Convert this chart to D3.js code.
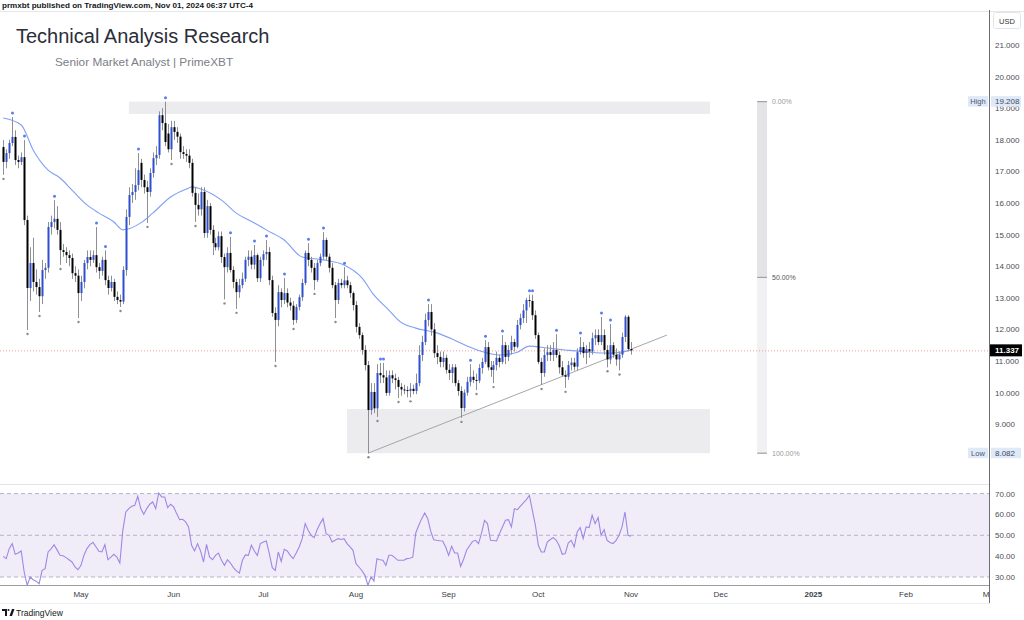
<!DOCTYPE html>
<html><head><meta charset="utf-8">
<script src="https://cdn.jsdelivr.net/npm/d3@7"></script>
<style>
body{margin:0;background:#fff;}
svg{display:block;font-family:"Liberation Sans",Arial,Helvetica,sans-serif;}
</style>
</head><body>
<svg id="chart" width="1024" height="620"></svg>
<script>
// ---------------- DATA ----------------
const firstDay = new Date(2024, 3, 5); // daily candles from Apr 5, 2024
const opens = [
17.77,17.30,17.58,17.90,18.09,17.36,17.30,17.45,15.46,13.31,
14.10,13.50,13.34,13.05,13.88,13.95,15.24,15.40,15.50,15.15,
14.51,14.45,14.35,14.26,13.78,13.70,13.15,13.50,14.10,14.29,
14.20,14.35,13.97,13.85,14.20,13.56,13.31,13.50,13.03,12.93,
12.88,13.88,15.56,16.25,16.35,16.57,17.27,16.73,16.50,16.35,
16.95,17.42,17.52,18.78,18.53,18.20,17.70,18.40,18.25,18.10,
17.61,17.55,17.50,17.27,16.32,15.94,15.80,16.35,15.05,15.90,
15.15,14.73,14.60,14.95,14.29,13.97,14.42,13.88,13.50,13.18,
13.40,13.60,14.20,14.30,14.05,14.35,13.62,14.20,14.38,14.45,
13.56,12.52,12.30,13.18,12.93,13.15,12.85,12.75,12.30,12.71,
13.02,13.47,14.42,14.20,13.95,13.56,14.10,14.30,14.83,14.30,
13.95,13.40,12.93,13.47,13.40,13.55,13.40,13.15,12.77,12.08,
11.82,11.35,10.87,9.45,10.02,9.50,10.62,10.55,10.48,9.99,
10.55,10.45,10.40,10.18,10.10,10.08,10.05,10.12,10.05,10.30,
11.19,11.60,12.30,12.55,12.00,11.25,11.13,10.97,11.10,10.72,
10.62,10.80,10.30,10.05,9.51,10.00,10.34,10.50,10.40,10.38,
10.78,10.97,11.44,10.80,10.72,10.87,11.10,10.97,11.50,11.13,
11.35,11.60,11.45,12.14,12.36,12.60,12.93,12.90,12.45,11.82,
10.97,10.62,11.19,11.28,11.19,11.35,11.19,10.80,10.55,10.50,
10.87,10.95,10.82,11.28,11.44,11.25,11.38,11.30,11.72,11.82,
11.60,11.82,11.35,11.05,11.50,11.20,11.05,11.20,11.76,12.40,11.38];
const highs = [
17.99,17.70,18.00,18.72,18.30,17.50,17.60,17.99,15.60,14.60,
14.90,13.90,13.60,14.20,14.10,15.40,15.60,16.09,15.90,15.40,
14.70,14.60,14.50,14.40,14.00,13.90,13.70,14.20,14.50,14.50,
14.50,15.24,14.10,14.30,14.50,13.70,13.70,13.60,13.20,13.10,
14.00,15.80,16.50,16.60,17.10,17.58,17.40,16.90,16.70,17.10,
17.60,17.80,18.90,19.00,19.208,18.50,18.60,18.60,18.40,18.20,
17.80,17.70,17.70,17.40,16.50,16.30,16.50,16.50,16.10,16.00,
15.30,14.90,15.10,15.10,14.40,14.60,14.93,14.00,13.60,13.60,
13.80,14.30,14.50,14.50,14.67,14.40,14.30,14.50,14.83,14.60,
13.70,12.70,13.40,13.30,13.63,13.30,13.00,12.90,12.80,13.10,
13.60,14.50,14.73,14.30,14.10,14.20,14.40,15.08,14.90,14.40,
14.10,13.50,13.60,13.60,13.97,13.70,13.50,13.20,12.90,12.20,
11.90,11.50,11.00,10.30,10.30,10.90,10.94,10.94,10.70,10.70,
10.70,10.60,10.50,10.30,10.25,10.20,10.30,10.25,10.60,11.50,
11.80,12.50,12.80,12.80,12.20,11.50,11.30,11.30,11.20,10.90,
10.90,10.90,10.40,10.20,10.10,10.50,10.90,10.70,10.60,10.90,
11.10,11.66,11.60,11.00,11.00,11.30,11.20,11.82,11.60,11.50,
11.80,11.70,12.30,12.50,12.80,13.00,13.10,13.10,12.60,11.90,
11.10,11.40,11.50,11.50,11.60,11.85,11.30,11.00,10.70,11.00,
11.10,11.10,11.40,11.76,11.60,11.50,11.60,11.90,12.00,12.00,
12.39,12.00,11.50,12.17,11.60,11.40,11.30,11.90,12.45,12.45,11.60];
const lows = [
16.89,17.10,17.40,17.80,17.20,17.10,17.20,15.30,11.98,12.90,
13.20,13.10,12.55,12.80,13.60,13.80,15.00,15.20,15.00,14.04,
14.30,14.10,14.00,13.60,13.50,12.36,12.90,13.30,13.90,14.00,
14.10,13.80,13.60,13.70,13.40,13.10,13.20,12.90,12.80,12.71,
12.80,13.70,15.30,16.00,16.10,16.40,16.50,16.30,15.37,16.20,
16.80,17.20,17.40,18.30,17.80,17.60,17.36,18.00,17.90,17.40,
17.40,17.30,17.10,16.20,15.40,15.60,15.60,14.90,14.90,15.00,
14.35,14.50,14.50,14.10,12.95,13.80,13.80,13.30,12.65,13.00,
13.30,13.50,14.00,13.90,13.90,13.50,13.50,14.00,14.20,13.40,
12.40,10.97,12.10,12.70,12.80,12.70,12.60,12.14,12.20,12.60,
12.90,13.40,14.00,13.80,13.25,13.50,14.00,14.20,14.20,13.80,
13.30,12.36,12.80,13.30,13.30,13.30,13.00,12.60,11.90,11.70,
11.20,10.70,8.082,9.30,9.35,9.23,10.30,10.30,9.90,9.90,
10.30,10.10,9.83,9.90,9.95,9.85,9.85,9.95,9.95,10.20,
11.00,11.50,12.10,11.80,11.10,10.90,10.80,10.80,10.60,10.40,
10.30,10.20,9.90,9.20,9.40,9.90,10.20,10.30,10.08,10.30,
10.60,10.90,10.70,10.50,10.30,10.70,10.80,10.90,10.90,11.00,
11.20,11.30,11.40,12.00,12.20,12.20,12.70,12.30,11.70,10.90,
10.24,10.50,11.00,11.00,11.00,11.10,10.60,10.50,10.15,10.40,
10.70,10.70,10.70,11.20,11.10,10.90,11.10,11.20,11.50,11.50,
11.50,11.20,10.80,10.90,11.10,10.85,10.70,11.10,11.60,11.30,11.20];
const closes = [
17.30,17.58,17.90,18.09,17.36,17.30,17.45,15.46,13.31,14.10,
13.50,13.34,13.05,13.88,13.95,15.24,15.40,15.50,15.15,14.51,
14.45,14.35,14.26,13.78,13.70,13.15,13.50,14.10,14.29,14.20,
14.35,13.97,13.85,14.20,13.56,13.31,13.50,13.03,12.93,12.88,
13.88,15.56,16.25,16.35,16.57,17.04,16.73,16.50,16.35,16.95,
17.42,17.52,18.78,18.53,17.93,17.70,18.40,18.25,18.10,17.61,
17.55,17.50,17.27,16.32,15.94,15.80,16.35,15.05,15.90,15.15,
14.73,14.60,14.95,14.29,13.97,14.42,13.88,13.50,13.18,13.40,
13.60,14.20,14.30,14.05,14.35,13.62,14.20,14.38,14.45,13.56,
12.52,12.30,13.18,12.93,13.15,12.85,12.75,12.30,12.71,13.02,
13.47,14.42,14.20,13.95,13.56,14.10,14.30,14.83,14.30,13.95,
13.40,12.93,13.47,13.40,13.55,13.40,13.15,12.77,12.08,11.82,
11.35,10.87,9.45,10.02,9.50,10.62,10.55,10.48,9.99,10.55,
10.45,10.40,10.18,10.10,10.08,10.05,10.12,10.05,10.30,11.19,
11.60,12.30,12.55,12.00,11.25,11.13,10.97,11.10,10.72,10.62,
10.80,10.30,10.05,9.51,10.00,10.34,10.50,10.40,10.38,10.78,
10.97,11.44,10.80,10.72,10.87,11.10,10.97,11.50,11.13,11.35,
11.60,11.45,12.14,12.36,12.60,12.93,12.90,12.45,11.82,10.97,
10.62,11.19,11.28,11.19,11.35,11.19,10.80,10.55,10.50,10.87,
10.95,10.82,11.28,11.44,11.25,11.38,11.30,11.72,11.82,11.60,
11.82,11.35,11.05,11.50,11.20,11.05,11.20,11.76,12.40,11.38,11.337];

// moving average line (day offset from firstDay, value)
const maDays   = [0,6,10,15,19,23,28,32,37,40,46,50,56,62,63,67,73,78,84,88,94,100,107,114,120,124,129,133,138,145,151,156,162,166,172,176,182,188,196,203,210];
const maValues = [18.69,18.47,17.68,17.04,16.79,16.41,15.94,15.68,15.40,15.15,15.37,15.68,16.19,16.47,16.51,16.41,16.09,15.68,15.37,15.15,14.83,14.29,14.20,14.04,13.63,13.09,12.61,12.23,12.04,11.89,11.66,11.44,11.25,11.19,11.28,11.47,11.41,11.35,11.28,11.25,11.35];

// RSI, one value per candle
const rsiValues = [
39.9,38.8,43.6,46.0,40.9,41.5,42.5,32.4,26.0,30.0,
28.7,28.0,26.8,33.2,34.0,42.0,43.5,45.5,43.0,40.4,
40.2,39.3,38.3,37.2,34.8,33.5,35.6,40.4,43.6,45.5,
46.6,44.5,42.3,42.0,45.5,38.3,39.5,40.9,39.6,36.7,
52.4,61.2,62.8,63.9,64.4,68.7,62.8,60.1,62.8,64.9,
66.0,62.8,70.3,68.4,68.4,63.3,64.9,63.6,60.4,57.5,
57.7,56.4,54.0,45.2,42.5,46.0,42.5,37.2,45.7,39.6,
38.3,40.4,41.5,38.0,35.6,38.3,36.7,34.5,32.9,31.9,
38.0,40.6,40.4,45.2,42.5,40.4,46.0,46.8,47.3,41.2,
34.5,33.2,42.0,37.5,43.3,42.5,40.4,38.8,41.5,44.4,
48.4,55.6,52.4,50.0,48.9,52.7,55.6,58.0,50.8,50.0,
46.8,47.6,48.4,48.0,48.4,46.0,44.4,42.8,36.4,34.8,
33.0,30.8,26.0,30.0,28.0,38.8,38.3,38.0,35.6,40.4,
40.4,39.3,38.0,38.0,38.0,38.8,39.0,39.5,51.1,54.8,
58.0,60.7,58.0,52.0,47.9,47.6,47.4,47.3,44.4,40.4,
44.7,41.5,41.5,35.1,38.5,42.8,45.0,47.1,47.6,46.0,
51.0,57.2,55.6,47.6,47.5,47.3,50.8,54.0,57.2,57.5,
54.0,62.8,62.3,64.0,65.5,67.1,69.2,62.0,55.0,45.2,
42.0,42.0,46.8,48.0,48.9,47.6,45.0,40.9,41.2,46.3,
47.6,44.4,51.6,53.7,48.4,54.0,53.7,59.6,55.6,58.5,
50.0,52.7,47.6,46.5,46.0,47.6,50.0,54.0,61.2,50.0,49.5];

// pivot markers (candle indices)
const pivotHighs = [3,7,17,31,34,45,54,76,84,88,94,102,107,114,126,127,142,156,161,167,176,177,185,193,200,203];
const pivotLows  = [0,8,12,19,25,39,48,56,64,74,78,91,97,104,111,122,125,132,136,153,158,164,180,188,202,206];

const priceTicks = [9,10,11,12,13,14,15,16,17,18,19,20,21];
const rsiTicks   = [30,40,50,60,70];
const rsiBand    = [30,70];
const monthLabels = ["May","Jun","Jul","Aug","Sep","Oct","Nov","Dec","2025","Feb","Mar"];
const monthDates  = ["2024-05-01","2024-06-01","2024-07-01","2024-08-01","2024-09-01","2024-10-01","2024-11-01","2024-12-01","2025-01-01","2025-02-01","2025-03-01"];

const highValue = 19.208, lowValue = 8.082, lastPrice = 11.337;
const fibLevels = [0, 0.5, 1];
const fibLabels = ["0.00%","50.00%","100.00%"];
const fibDays = [252.2, 255.5];
const topZone = {d0: 42, d1: 236.4, p0: 19.208, p1: 18.82};
const bottomZone = {d0: 115, d1: 236.4, p0: 9.48, p1: 8.082};
const trendLine = {d0: 122, p0: 8.082, d1: 222, p1: 11.82};

const headerText = "prmxbt published on TradingView.com, Nov 01, 2024 06:37 UTC-4";
const titleText = "Technical Analysis Research";
const subtitleText = "Senior Market Analyst | PrimeXBT";

// ---------------- SCALES ----------------
const dayDate = d => new Date(firstDay.getTime() + d * 864e5);
const pad2 = s => { const [yy,m,d] = s.split("-").map(Number); return new Date(yy, m-1, d); };
const x = d3.scaleTime().domain([new Date(2024,3,1), new Date(2025,2,1)]).range([-8.7, 989.7]);
const y = d3.scaleLinear().domain([8, 21]).range([455.8, 45]);
const yr = d3.scaleLinear().domain([30, 70]).range([577, 493.6]);

const AX = 989; // price axis x
const svg = d3.select("#chart");
const defs = svg.append("defs");
defs.append("clipPath").attr("id","pane").append("rect").attr("x",0).attr("y",12).attr("width",AX).attr("height",472);
defs.append("clipPath").attr("id","rsipane").append("rect").attr("x",0).attr("y",485).attr("width",AX).attr("height",100);
defs.append("clipPath").attr("id","hidetick").append("rect").attr("x",990).attr("y",106).attr("width",34).attr("height",10);

svg.append("rect").attr("width",1024).attr("height",620).attr("fill","#fff");

// header
svg.append("text").attr("x",2).attr("y",8).attr("font-size",8.1).attr("font-weight",600).attr("fill","#131722").text(headerText);
svg.append("line").attr("x1",0).attr("x2",1024).attr("y1",11.5).attr("y2",11.5).attr("stroke","#e6e7eb");

// ---------------- PRICE PANE ----------------
const pane = svg.append("g").attr("clip-path","url(#pane)");

[topZone, bottomZone].forEach(z => {
  pane.append("rect")
    .attr("x", x(dayDate(z.d0))).attr("width", x(dayDate(z.d1)) - x(dayDate(z.d0)))
    .attr("y", y(z.p0)).attr("height", y(z.p1) - y(z.p0))
    .attr("fill","#ececef");
});

// fib retracement bar
const fx0 = x(dayDate(fibDays[0])), fx1 = x(dayDate(fibDays[1]));
const fibPrice = f => highValue - f * (highValue - lowValue);
pane.append("rect").attr("x",fx0).attr("width",fx1-fx0).attr("y",y(fibPrice(0))).attr("height",y(fibPrice(0.5))-y(fibPrice(0))).attr("fill","#e4e4e7");
pane.append("rect").attr("x",fx0).attr("width",fx1-fx0).attr("y",y(fibPrice(0.5))).attr("height",y(fibPrice(1))-y(fibPrice(0.5))).attr("fill","#f1f1f4");
fibLevels.forEach((f,i) => {
  pane.append("line").attr("x1",fx0).attr("x2",fx1).attr("y1",y(fibPrice(f))).attr("y2",y(fibPrice(f))).attr("stroke","#a0a0a6").attr("stroke-width",1.2);
  svg.append("text").attr("x",fx1+5).attr("y",y(fibPrice(f))+2.5).attr("font-size",7).attr("fill", f===0.5 ? "#555" : "#999").text(fibLabels[i]);
});

// last price dotted line
pane.append("line").attr("x1",0).attr("x2",AX).attr("y1",y(lastPrice)+0.5).attr("y2",y(lastPrice)+0.5)
  .attr("stroke","#f29a9a").attr("stroke-dasharray","1,2").attr("stroke-width",1);

// trend line
pane.append("line")
  .attr("x1", x(dayDate(trendLine.d0))).attr("y1", y(trendLine.p0))
  .attr("x2", x(dayDate(trendLine.d1))).attr("y2", y(trendLine.p1))
  .attr("stroke","#a6a6ab").attr("stroke-width",1);

// moving average
const maLine = d3.line().x((d,i) => x(dayDate(maDays[i]))).y(d => y(d)).curve(d3.curveMonotoneX);
pane.append("path").datum(maValues).attr("d", maLine).attr("fill","none").attr("stroke","#7fa0f4").attr("stroke-width",1.1);

// candles
const candles = closes.map((c,i) => ({i, o: opens[i], h: highs[i], l: lows[i], c}));
pane.append("g").selectAll("line").data(candles).join("line")
  .attr("x1", d => Math.round(x(dayDate(d.i)))+0.5).attr("x2", d => Math.round(x(dayDate(d.i)))+0.5)
  .attr("y1", d => y(d.h)).attr("y2", d => y(d.l))
  .attr("stroke","#8d8f96").attr("stroke-width",1);
pane.append("g").selectAll("rect").data(candles).join("rect")
  .attr("x", d => Math.round(x(dayDate(d.i))) - 0.5).attr("width", 2)
  .attr("y", d => y(Math.max(d.o,d.c)))
  .attr("height", d => Math.max(1, Math.abs(y(d.o) - y(d.c))))
  .attr("fill", d => d.c >= d.o ? "#2e4fcf" : "#000");

// pivot markers
pane.append("g").selectAll("circle").data(pivotHighs).join("circle")
  .attr("cx", i => Math.round(x(dayDate(i)))+0.5).attr("cy", i => y(highs[i]) - 4).attr("r",1.5).attr("fill","#5a7cf2");
pane.append("g").selectAll("circle").data(pivotLows).join("circle")
  .attr("cx", i => Math.round(x(dayDate(i)))+0.5).attr("cy", i => y(lows[i]) + 4).attr("r",1.2).attr("fill","#8a8a8a");

// title
svg.append("text").attr("x",16).attr("y",43).attr("font-size",20).attr("fill","#2a2e39").text(titleText);
svg.append("text").attr("x",55).attr("y",66).attr("font-size",11.8).attr("fill","#7b7e87").text(subtitleText);

// separator
svg.append("line").attr("x1",0).attr("x2",AX).attr("y1",484.5).attr("y2",484.5).attr("stroke","#e3e4e8");

// ---------------- RSI PANE ----------------
const rp = svg.append("g").attr("clip-path","url(#rsipane)");
rp.append("rect").attr("x",0).attr("width",AX).attr("y",yr(rsiBand[1])).attr("height",yr(rsiBand[0])-yr(rsiBand[1])).attr("fill","#f0edf9");
[70,50,30].forEach(v => {
  rp.append("line").attr("x1",0).attr("x2",AX).attr("y1",yr(v)).attr("y2",yr(v))
    .attr("stroke","#b8b0cc").attr("stroke-dasharray","4,3").attr("stroke-width",1);
});
const rsiLine = d3.line().x((d,i) => x(dayDate(i))).y(d => yr(d));
rp.append("path").datum(rsiValues).attr("d", rsiLine).attr("fill","none").attr("stroke","#9e88e3").attr("stroke-width",1.1);

// time axis
svg.append("line").attr("x1",0).attr("x2",AX).attr("y1",585.5).attr("y2",585.5).attr("stroke","#9a9ca3").attr("stroke-width",1);
monthLabels.forEach((m,i) => {
  svg.append("text").attr("x", x(pad2(monthDates[i]))).attr("y",597).attr("text-anchor","middle")
    .attr("font-size",8).attr("font-weight", m==="2025" ? 700 : 400).attr("fill","#3a3d45").text(m);
});
svg.append("line").attr("x1",0).attr("x2",1024).attr("y1",603.5).attr("y2",603.5).attr("stroke","#eeeff2");

// ---------------- PRICE AXIS ----------------
svg.append("rect").attr("x",AX+1).attr("y",12).attr("width",1024-AX-1).attr("height",592).attr("fill","#fff");
svg.append("line").attr("x1",AX+0.5).attr("x2",AX+0.5).attr("y1",10).attr("y2",603).attr("stroke","#6b6e76").attr("stroke-width",1);
// the 19.000 tick sits under the High label; only its lower part shows, as in the original
svg.append("g").selectAll("text").data(priceTicks).join("text")
  .attr("x",995).attr("y", d => y(d)+3).attr("font-size",8).attr("fill","#4a4d55")
  .attr("clip-path", d => d === 19 ? "url(#hidetick)" : null)
  .text(d => d3.format(".3f")(d));
svg.append("g").selectAll("text").data(rsiTicks).join("text")
  .attr("x",995).attr("y", d => yr(d)+3).attr("font-size",8).attr("fill","#4a4d55").text(d => d3.format(".2f")(d));

// USD box
svg.append("rect").attr("x",993.5).attr("y",12.5).attr("width",27).attr("height",16).attr("rx",2).attr("fill","#fff").attr("stroke","#e3e4e8");
svg.append("text").attr("x",1007).attr("y",23.5).attr("text-anchor","middle").attr("font-size",7.5).attr("fill","#333").text("USD");

// High / Low labels
[[highValue,"High"],[lowValue,"Low"]].forEach(([v,lab]) => {
  const yy = y(v);
  svg.append("rect").attr("x",968).attr("y",yy-5.5).attr("width",20).attr("height",10.5).attr("fill","#dfe9f8");
  svg.append("text").attr("x",978).attr("y",yy+2.6).attr("text-anchor","middle").attr("font-size",7.5).attr("fill","#4b5770").text(lab);
  svg.append("rect").attr("x",991).attr("y",yy-5.5).attr("width",30).attr("height",10.5).attr("fill","#dfe9f8");
  svg.append("text").attr("x",995).attr("y",yy+2.8).attr("font-size",8).attr("fill","#3d4a66").text(d3.format(".3f")(v));
});

// last price box
svg.append("rect").attr("x",990).attr("y",y(lastPrice)-6).attr("width",32).attr("height",12).attr("fill","#000");
svg.append("text").attr("x",995).attr("y",y(lastPrice)+3).attr("font-size",8).attr("font-weight",700).attr("fill","#fff").text(d3.format(".3f")(lastPrice));

// TradingView logo
const logo = svg.append("g").attr("transform","translate(2,609)");
logo.append("path").attr("d","M0 0 H5 V7 H3 V2 H0 Z").attr("fill","#131722");
logo.append("circle").attr("cx",6.5).attr("cy",1).attr("r",1).attr("fill","#131722");
logo.append("path").attr("d","M7.5 7 L10 0 H12.5 L10 7 Z").attr("fill","#131722");
svg.append("text").attr("x",16).attr("y",616).attr("font-size",8.5).attr("fill","#131722").text("TradingView");
</script>
</body></html>
